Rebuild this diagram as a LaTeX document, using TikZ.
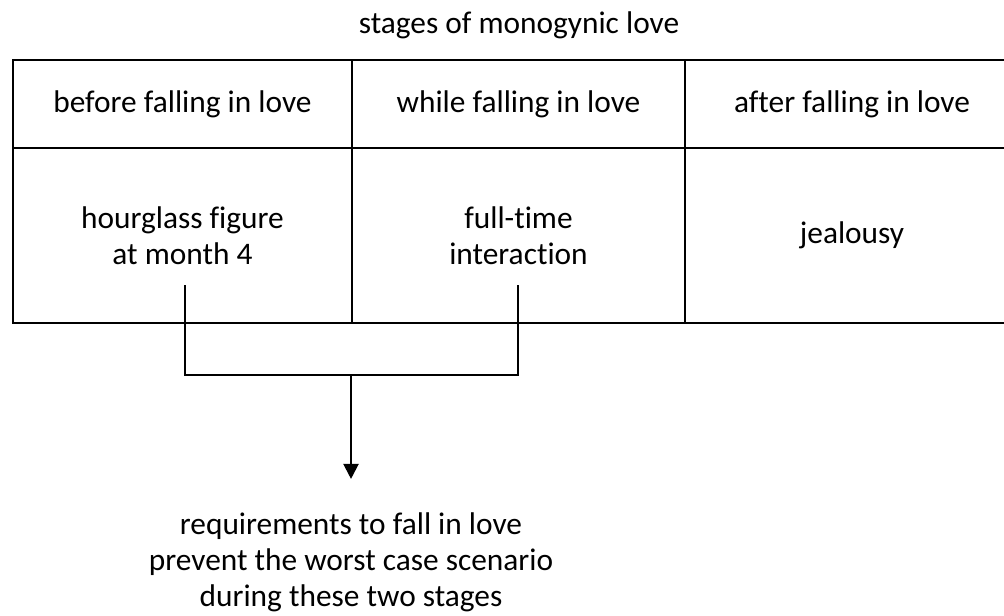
\documentclass[tikz,border=0pt]{standalone}
\usepackage{fontspec}
\setmainfont{Carlito}[Ligatures=NoCommon]
\usetikzlibrary{arrows.meta, positioning}
\tikzset{
    stagecell/.style={
        rectangle, draw=black, line width=1.8pt,
        inner sep=0pt, align=center,
        font=\fontsize{22.3pt}{25.6pt}\selectfont
    },
    caption/.style={
        inner sep=0pt, align=center,
        font=\fontsize{22.3pt}{25.6pt}\selectfont
    },
    bracket/.style={draw=black, line width=1.5pt, line join=miter},
    wire/.style={draw=black, line width=1.5pt, -{Triangle[width=10.7pt, length=10.7pt]}}
}

\begin{document}
\begin{tikzpicture}[x=0.025cm, y=-0.025cm]

\useasboundingbox (0,0) rectangle (1004,616);
\clip (0,0) rectangle (1004,616);

% Title
\node[caption] (title) at (519,25) {stages of monogynic love};

% Header row
\node[stagecell, minimum width=8.475cm, minimum height=2.2cm] (h1) at (182.5,104) {before falling in love};
\node[stagecell, minimum width=8.325cm, minimum height=2.2cm] (h2) at (518.5,104) {while falling in love};
\node[stagecell, minimum width=8.35cm, minimum height=2.2cm] (h3) at (852,104) {after falling in love};

% Body row
\node[stagecell, minimum width=8.475cm, minimum height=4.375cm] (b1) at (182.5,235.5) {hourglass figure\\at month 4};
\node[stagecell, minimum width=8.325cm, minimum height=4.375cm] (b2) at (518.5,235.5) {full-time\\interaction};
\node[stagecell, minimum width=8.35cm, minimum height=4.375cm] (b3) at (852,235.5) {jealousy};

% Bracket joining the first two stages
\coordinate (lfoot) at (185,285);
\coordinate (rfoot) at (518,285);
\coordinate (join) at (351,375);

\draw[bracket] (lfoot) |- (join) -| (rfoot);

% Conclusion
\node[caption, anchor=north] (req) at (351,512) {requirements to fall in love\\prevent the worst case scenario\\during these two stages};

\draw[wire, shorten >=23.5pt] (join) -- (req.north);

\end{tikzpicture}
\end{document}
